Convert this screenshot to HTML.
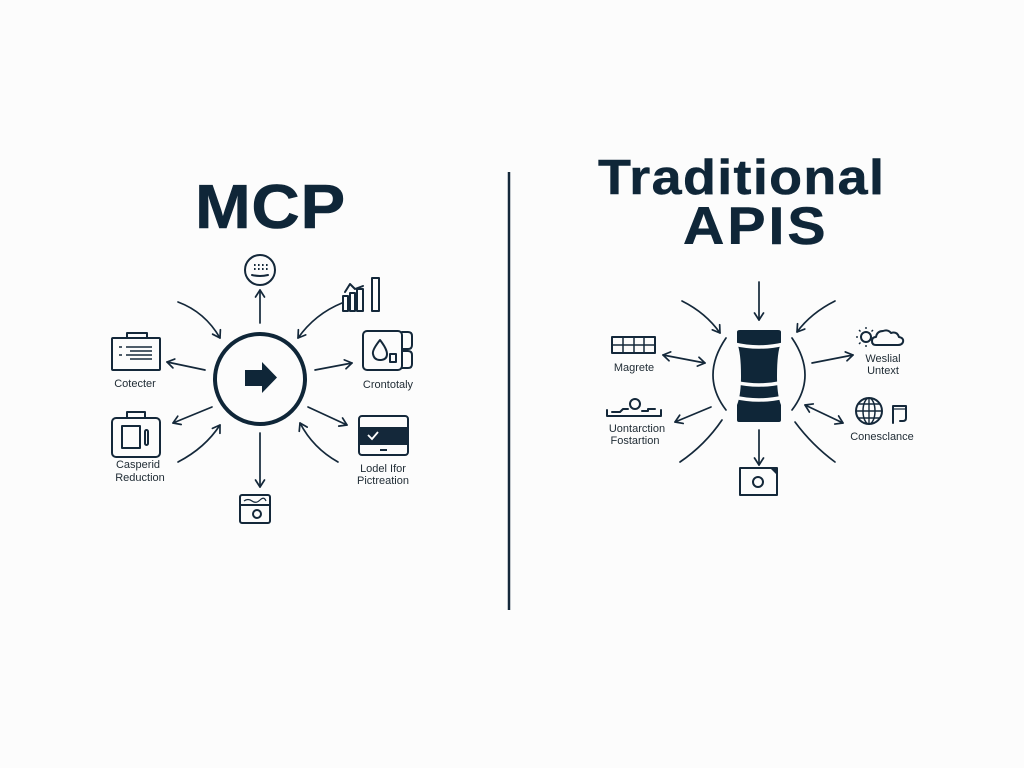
<!DOCTYPE html>
<html><head><meta charset="utf-8"><style>
html,body{margin:0;padding:0;background:#fcfcfc;}
svg{display:block;}
text{font-family:"Liberation Sans",Arial,sans-serif;}
.t{font-weight:bold;fill:#0f2638;}
.l{font-size:11px;fill:#1e2a33;text-anchor:middle;}
.s{fill:none;stroke:#14283a;stroke-width:1.7;stroke-linecap:round;}
.i{fill:none;stroke:#14283a;stroke-width:2;stroke-linejoin:round;stroke-linecap:round;}
</style></head><body>
<svg width="1024" height="768" viewBox="0 0 1024 768" xmlns="http://www.w3.org/2000/svg">
<defs>
<marker id="a" markerWidth="12" markerHeight="12" refX="9" refY="6" orient="auto-start-reverse" markerUnits="userSpaceOnUse">
<path d="M2,1.5 L9,6 L2,10.5" fill="none" stroke="#14283a" stroke-width="1.7" stroke-linecap="round" stroke-linejoin="round"/>
</marker>
</defs>
<rect width="1024" height="768" fill="#fcfcfc"/>

<!-- Titles -->
<g transform="translate(195,228) scale(1.08,1)"><text class="t" x="0" y="0" font-size="62" textLength="139" lengthAdjust="spacing" stroke="#0f2638" stroke-width="0.6">MCP</text></g>
<g transform="translate(598,194) scale(1.1,1)"><text class="t" x="0" y="0" font-size="49" textLength="260" lengthAdjust="spacing" stroke="#0f2638" stroke-width="0.5">Traditional</text></g>
<g transform="translate(683,244) scale(1.08,1)"><text class="t" x="0" y="0" font-size="53" textLength="132" lengthAdjust="spacing" stroke="#0f2638" stroke-width="0.5">APIS</text></g>

<!-- Divider -->
<line x1="509" y1="172" x2="509" y2="610" stroke="#14283a" stroke-width="2.5"/>

<!-- ===== MCP ===== -->
<circle cx="260" cy="379" r="45" fill="none" stroke="#0f2638" stroke-width="4"/>
<path d="M245 370 H262 V362 L277 377.5 L262 393 V386 H245 Z" fill="#0f2638"/>

<!-- arrows -->
<path class="s" d="M260 323 V290" marker-end="url(#a)"/>
<path class="s" d="M178 302 Q205 312 220 338" marker-end="url(#a)"/>
<path class="s" d="M342 303 Q315 314 298 338" marker-end="url(#a)"/>
<path class="s" d="M205 370 L167 362" marker-end="url(#a)"/>
<path class="s" d="M315 370 L352 363" marker-end="url(#a)"/>
<path class="s" d="M212 407 L173 423" marker-end="url(#a)"/>
<path class="s" d="M178 462 Q205 448 220 425" marker-end="url(#a)"/>
<path class="s" d="M260 433 V487" marker-end="url(#a)"/>
<path class="s" d="M308 407 L347 425" marker-end="url(#a)"/>
<path class="s" d="M338 462 Q313 448 300 423" marker-end="url(#a)"/>

<!-- smile icon -->
<circle class="i" cx="260" cy="270" r="15"/>
<g fill="#14283a">
<rect x="254" y="264" width="1.6" height="2"/><rect x="258" y="264" width="1.6" height="2"/><rect x="262" y="264" width="1.6" height="2"/><rect x="266" y="264" width="1.6" height="2"/>
<rect x="254" y="268" width="1.6" height="2"/><rect x="258" y="268" width="1.6" height="2"/><rect x="262" y="268" width="1.6" height="2"/><rect x="266" y="268" width="1.6" height="2"/>
</g>
<path class="i" d="M252 275 Q260 277 268 275" stroke-width="1.6"/>

<!-- bar chart -->
<rect class="i" x="343" y="296" width="5" height="15"/>
<rect class="i" x="350" y="293" width="5" height="18"/>
<rect class="i" x="357" y="289" width="6" height="22"/>
<rect class="i" x="372" y="278" width="7" height="33"/>
<path class="i" d="M345 292 L350 284 L355 289 L363 286" stroke-width="1.4"/>

<!-- Cotecter briefcase -->
<rect class="i" x="112" y="338" width="48" height="32" rx="1"/>
<path class="i" d="M127 338 V333 H147 V338"/>
<g stroke="#14283a" stroke-width="1.5">
<line x1="119" y1="347" x2="122" y2="347"/><line x1="126" y1="347" x2="152" y2="347"/>
<line x1="130" y1="351" x2="152" y2="351"/>
<line x1="119" y1="355" x2="122" y2="355"/><line x1="126" y1="355" x2="152" y2="355"/>
<line x1="130" y1="359" x2="152" y2="359"/>
</g>
<text class="l" x="135" y="387">Cotecter</text>

<!-- Casperid -->
<rect class="i" x="112" y="418" width="48" height="39" rx="4"/>
<path class="i" d="M127 418 V412 H145 V418"/>
<rect class="i" x="122" y="426" width="18" height="22"/>
<rect class="i" x="145" y="430" width="3" height="15" rx="1.5" stroke-width="1.5"/>
<text class="l" x="138" y="468">Casperid</text>
<text class="l" x="140" y="481">Reduction</text>

<!-- Cup icon -->
<rect class="i" x="363" y="331" width="39" height="39" rx="4"/>
<path class="i" d="M402 332 H408 Q412 332 412 336 V345 Q412 349 408 349 H402"/>
<path class="i" d="M402 351 H408 Q412 351 412 355 V364 Q412 368 408 368 H402"/>
<path class="i" d="M380 340 Q372 350 373 354 Q374 360 380 360 Q387 360 387 354 Q387 349 380 340 Z" stroke-width="1.8"/>
<path class="i" d="M390 354 H396 V362 H390 Z" stroke-width="1.5"/>
<text class="l" x="388" y="388">Crontotaly</text>

<!-- Monitor -->
<rect class="i" x="359" y="416" width="49" height="39" rx="3"/>
<rect x="359" y="427" width="49" height="18" fill="#14283a"/>
<path d="M368 435 L372 439 L378 432" fill="none" stroke="#fff" stroke-width="1.8"/>
<line x1="380" y1="450" x2="387" y2="450" stroke="#14283a" stroke-width="2"/>
<text class="l" x="383" y="472">Lodel Ifor</text>
<text class="l" x="383" y="484">Pictreation</text>

<!-- Calendar -->
<rect class="i" x="240" y="495" width="30" height="28" rx="2"/>
<line x1="240" y1="505" x2="270" y2="505" stroke="#14283a" stroke-width="2"/>
<path d="M244 501 Q248 498 252 501 T260 500 T266 501" fill="none" stroke="#14283a" stroke-width="1.2"/>
<circle class="i" cx="257" cy="514" r="4" stroke-width="1.8"/>

<!-- ===== Traditional APIs ===== -->
<path d="M737 332 Q737 330 740 330 L778 330 Q781 330 781 332 L781 343 Q777 352 777 376 Q777 395 781 405 L781 420 Q781 422 779 422 L739 422 Q737 422 737 420 L737 405 Q741 395 741 376 Q741 352 737 343 Z" fill="#0f2638"/>
<path d="M734 344 Q759 350 784 344" fill="none" stroke="#fcfcfc" stroke-width="3.5"/>
<path d="M734 382 Q759 388 784 382" fill="none" stroke="#fcfcfc" stroke-width="3.5"/>
<path d="M734 397 Q759 403 784 397" fill="none" stroke="#fcfcfc" stroke-width="3.5"/>

<path class="s" d="M726 338 Q700 376 726 410"/>
<path class="s" d="M792 338 Q818 376 792 410"/>

<path class="s" d="M759 282 V320" marker-end="url(#a)"/>
<path class="s" d="M682 301 Q706 313 720 333" marker-end="url(#a)"/>
<path class="s" d="M835 301 Q811 313 797 332" marker-end="url(#a)"/>
<path class="s" d="M759 430 V465" marker-end="url(#a)"/>
<path class="s" d="M663 355 L705 363" marker-start="url(#a)" marker-end="url(#a)"/>
<path class="s" d="M812 363 L853 355" marker-end="url(#a)"/>
<path class="s" d="M711 407 L675 422" marker-end="url(#a)"/>
<path class="s" d="M722 420 Q705 445 680 462"/>
<path class="s" d="M795 422 Q812 445 835 462"/>
<path class="s" d="M805 405 L843 423" marker-start="url(#a)" marker-end="url(#a)"/>

<!-- camera -->
<rect class="i" x="740" y="468" width="37" height="27"/>
<circle class="i" cx="758" cy="482" r="5"/>
<path d="M770 468 H777 V475 Z" fill="#14283a"/>

<!-- grid -->
<rect class="i" x="612" y="337" width="43" height="16" stroke-width="1.7"/>
<g stroke="#14283a" stroke-width="1.5">
<line x1="623" y1="337" x2="623" y2="353"/><line x1="634" y1="337" x2="634" y2="353"/><line x1="644" y1="337" x2="644" y2="353"/>
<line x1="612" y1="345" x2="655" y2="345"/>
</g>
<text class="l" x="634" y="371">Magrete</text>

<!-- Uontarction icon -->
<circle class="i" cx="635" cy="404" r="5" stroke-width="1.7"/>
<path class="i" d="M607 410 V416 H661 V410" stroke-width="1.5"/>
<path class="i" d="M612 412 H620 L623 409 H628" stroke-width="1.4"/>
<path class="i" d="M642 411 H648 V409 H655" stroke-width="1.4"/>
<text class="l" x="637" y="432">Uontarction</text>
<text class="l" x="635" y="444">Fostartion</text>

<!-- weather -->
<circle class="i" cx="866" cy="337" r="5" stroke-width="1.6"/>
<g stroke="#14283a" stroke-width="1.4">
<line x1="866" y1="327" x2="866" y2="329"/><line x1="866" y1="345" x2="866" y2="347"/>
<line x1="856" y1="337" x2="858" y2="337"/><line x1="874" y1="337" x2="876" y2="337"/>
<line x1="859" y1="330" x2="860.5" y2="331.5"/><line x1="871.5" y1="342.5" x2="873" y2="344"/>
<line x1="859" y1="344" x2="860.5" y2="342.5"/><line x1="871.5" y1="331.5" x2="873" y2="330"/>
</g>
<path class="i" d="M876 345 Q872 345 872 341 Q872 337 876 337 Q877 331 883 331 Q888 329 891 333 Q897 331 899 337 Q904 338 903 342 Q902 345 898 345 Z" stroke-width="1.6"/>
<text class="l" x="883" y="362">Weslial</text>
<text class="l" x="883" y="374">Untext</text>

<!-- globe -->
<circle class="i" cx="869" cy="411" r="13" stroke-width="1.8"/>
<ellipse cx="869" cy="411" rx="6" ry="13" fill="none" stroke="#14283a" stroke-width="1.5"/>
<g stroke="#14283a" stroke-width="1.4">
<line x1="869" y1="398" x2="869" y2="424"/>
<line x1="856" y1="411" x2="882" y2="411"/>
<line x1="858" y1="404" x2="880" y2="404"/>
<line x1="858" y1="418" x2="880" y2="418"/>
</g>
<path class="i" d="M893 423 V406 H906 V418 Q906 421 903 421 H900" stroke-width="1.8"/>
<line x1="893" y1="409" x2="906" y2="409" stroke="#14283a" stroke-width="1.2"/>
<text class="l" x="882" y="440">Conesclance</text>
</svg>
</body></html>
